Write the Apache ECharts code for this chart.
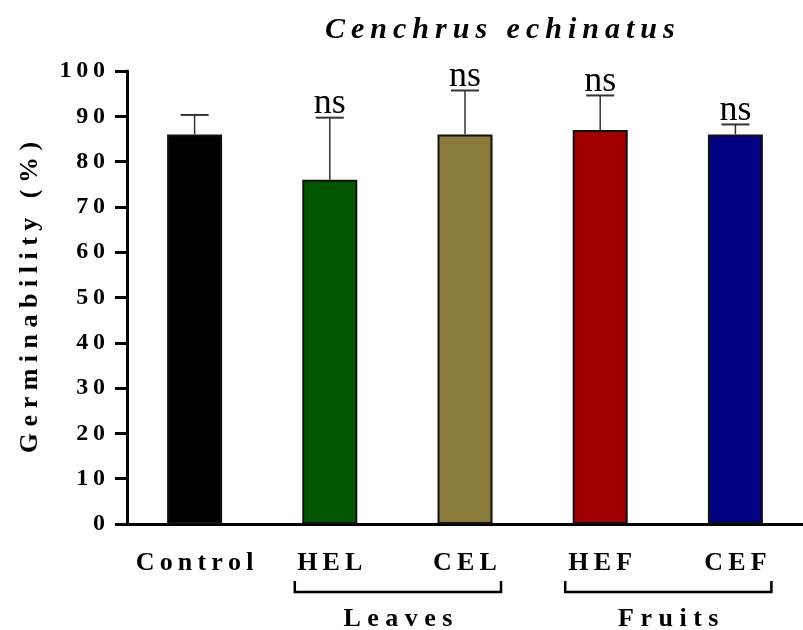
<!DOCTYPE html>
<html lang="en">
<head>
    <meta charset="UTF-8">
    <script type="text/javascript" src="https://cdn.jsdelivr.net/npm/echarts@6/dist/echarts.min.js"></script>
    <title>Cenchrus echinatus</title>
    <style type="text/css">
        html, body { margin: 0; padding: 0; background: #fff; }
        #chart { width: 803px; height: 630px; }
    </style>
</head>
<body>
<div id="chart"></div>
<script type="text/javascript">
    // data
    const categories = ['Control', 'HEL', 'CEL', 'HEF', 'CEF'];
    const means = [86, 76, 86, 87, 86];
    const upperErr = [4.3, 13.7, 9.7, 7.6, 2.2];
    const sigLabels = ['', 'ns', 'ns', 'ns', 'ns'];
    const barColors = ['#000000', '#005700', '#8b7b3a', '#a00000', '#000080'];
    const groupNames = ['Leaves', 'Fruits'];
    const groupFrom = [1, 3];
    const groupTo = [2, 4];
    const yMin = 0, yMax = 100, yStep = 10;

    const SERIF = '"Liberation Serif", "Times New Roman", serif';
    // the original figure uses widely tracked bold lettering
    function spaced(s, gap) {
        return s.split('').join(gap || '\u2009');
    }

    let chart = echarts.init(document.getElementById('chart'));

    let option = {
        animation: false,
        backgroundColor: '#fff',
        title: {
            text: spaced('Cenchrus echinatus', '\u2009'),
            left: 320,
            top: 10,
            textStyle: {
                fontFamily: SERIF,
                fontStyle: 'italic',
                fontWeight: 'bold',
                fontSize: 30,
                color: '#000'
            }
        },
        grid: {
            left: 127,
            top: 71,
            width: 682,
            height: 453
        },
        xAxis: {
            type: 'category',
            data: categories,
            axisLine: { lineStyle: { color: '#000', width: 3 } },
            axisTick: { alignWithLabel: true, length: 12, lineStyle: { color: '#000', width: 3 } },
            axisLabel: {
                interval: 0,
                hideOverlap: false,
                margin: 26,
                fontFamily: SERIF,
                fontWeight: 'bold',
                fontSize: 26,
                color: '#000',
                formatter: v => spaced(v)
            }
        },
        yAxis: {
            type: 'value',
            min: yMin,
            max: yMax,
            interval: yStep,
            name: spaced('Germinability (%)', '\u2005'),
            nameLocation: 'middle',
            nameGap: 84,
            nameTextStyle: {
                fontFamily: SERIF,
                fontWeight: 'bold',
                fontSize: 26,
                color: '#000'
            },
            axisLine: { show: true, lineStyle: { color: '#000', width: 3 } },
            axisTick: { show: true, length: 12, lineStyle: { color: '#000', width: 3 } },
            splitLine: { show: false },
            axisLabel: {
                margin: 22,
                fontFamily: SERIF,
                fontWeight: 'bold',
                fontSize: 24,
                color: '#000',
                formatter: v => spaced(String(v))
            }
        },
        series: [
            {
                type: 'bar',
                barWidth: 55,
                data: means.map((v, i) => ({
                    value: v,
                    itemStyle: { color: barColors[i] }
                })),
                itemStyle: { borderColor: '#111', borderWidth: 2 },
                z: 2
            },
            {
                type: 'custom',
                z: 3,
                data: means.map((v, i) => [i, v, v + upperErr[i]]),
                renderItem: function (params, api) {
                    let base = api.coord([api.value(0), api.value(1)]);
                    let top = api.coord([api.value(0), api.value(2)]);
                    let half = 14;
                    return {
                        type: 'group',
                        children: [
                            {
                                type: 'line',
                                shape: { x1: base[0], y1: base[1], x2: top[0], y2: top[1] },
                                style: { stroke: '#333', lineWidth: 1.5 }
                            },
                            {
                                type: 'line',
                                shape: { x1: top[0] - half, y1: top[1], x2: top[0] + half, y2: top[1] },
                                style: { stroke: '#333', lineWidth: 2 }
                            },
                            {
                                type: 'text',
                                x: top[0],
                                y: top[1] + 4,
                                style: {
                                    text: sigLabels[params.dataIndex],
                                    fontFamily: SERIF,
                                    fontSize: 36,
                                    fill: '#000',
                                    align: 'center',
                                    verticalAlign: 'bottom'
                                }
                            }
                        ]
                    };
                }
            }
        ]
    };
    chart.setOption(option);

    // group brackets under the category labels
    function drawBrackets() {
        let y0 = chart.convertToPixel({ yAxisIndex: 0 }, 0);
        let elements = [];
        groupNames.forEach((name, g) => {
            let x1 = chart.convertToPixel({ xAxisIndex: 0 }, groupFrom[g]) - 35;
            let x2 = chart.convertToPixel({ xAxisIndex: 0 }, groupTo[g]) + 36;
            elements.push({
                type: 'polyline',
                shape: { points: [[x1, y0 + 57], [x1, y0 + 68], [x2, y0 + 68], [x2, y0 + 57]] },
                style: { stroke: '#000', lineWidth: 2.5, fill: null }
            });
            elements.push({
                type: 'text',
                x: (x1 + x2) / 2,
                y: y0 + 95,
                style: {
                    text: spaced(name, '\u2005'),
                    fontFamily: SERIF,
                    fontWeight: 'bold',
                    fontSize: 26,
                    fill: '#000',
                    align: 'center',
                    verticalAlign: 'middle'
                }
            });
        });
        chart.setOption({ graphic: elements });
    }
    drawBrackets();
</script>
</body>
</html>
